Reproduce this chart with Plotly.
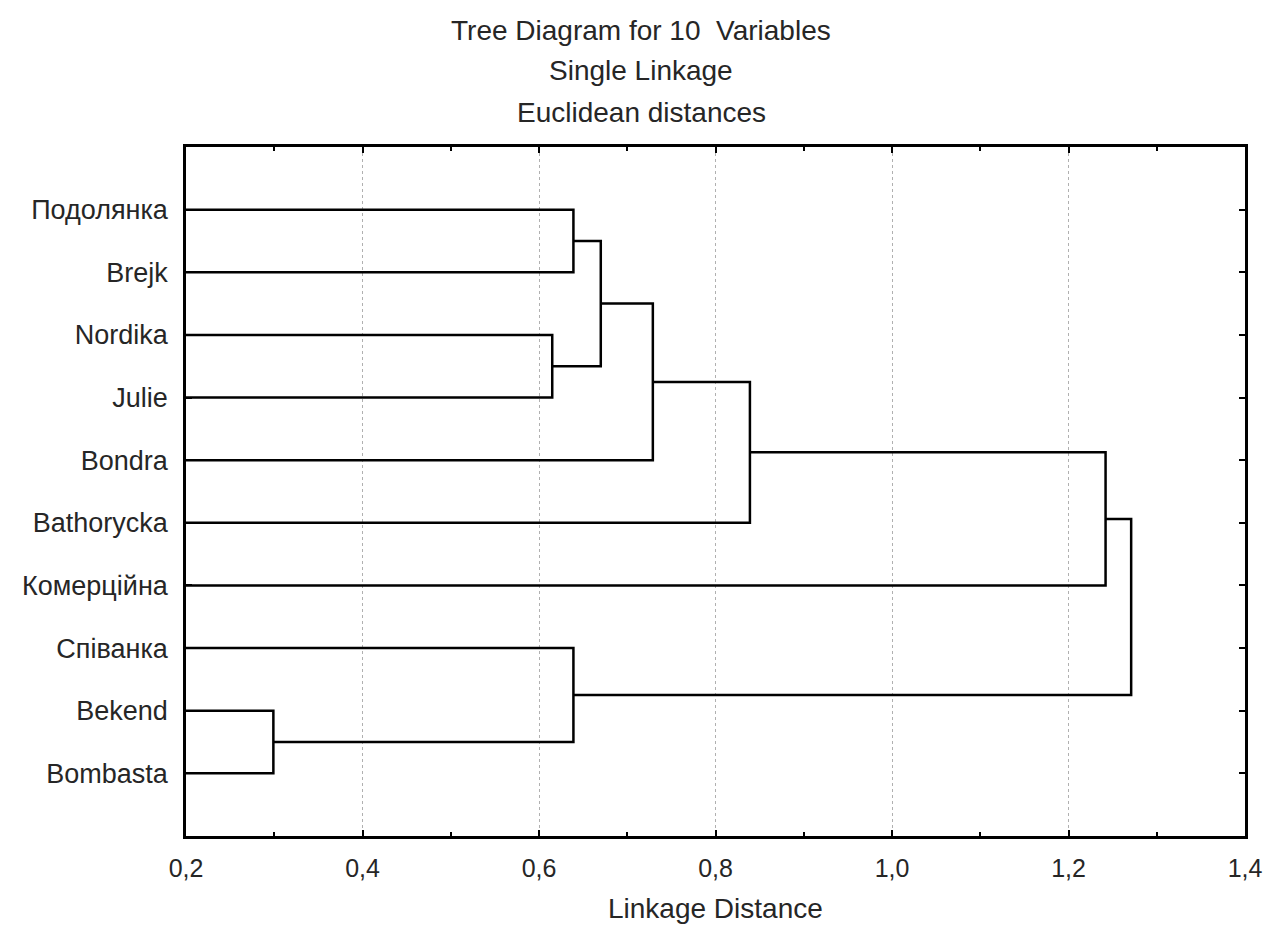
import plotly.graph_objects as go

# ---- data ----
leaves = ["Подолянка", "Brejk", "Nordika", "Julie", "Bondra",
          "Bathorycka", "Комерційна", "Співанка", "Bekend", "Bombasta"]
# merges: (left cluster, right cluster, linkage distance)
merge_left = ["Подолянка", "Nordika", "C1", "C3", "C4", "C5", "Bekend", "Співанка", "C6"]
merge_right = ["Brejk", "Julie", "C2", "Bondra", "Bathorycka", "Комерційна", "Bombasta", "C7", "C8"]
merge_height = [0.639, 0.615, 0.670, 0.729, 0.839, 1.242, 0.299, 0.639, 1.271]
merge_names = ["C1", "C2", "C3", "C4", "C5", "C6", "C7", "C8", "C9"]

x_ticks = [0.2, 0.4, 0.6, 0.8, 1.0, 1.2, 1.4]
title_lines = ["Tree Diagram for 10  Variables", "Single Linkage", "Euclidean distances"]
x_title = "Linkage Distance"

FONT = "Liberation Sans, Arial, sans-serif"
TXT = "#262626"

# positions
pos = {name: i + 1 for i, name in enumerate(leaves)}
hgt = {name: 0.0 for name in leaves}

fig = go.Figure()
for a, b, h, n in zip(merge_left, merge_right, merge_height, merge_names):
    ya, yb = pos[a], pos[b]
    fig.add_trace(go.Scatter(
        x=[hgt[a], h, h, hgt[b]],
        y=[ya, ya, yb, yb],
        mode="lines",
        line=dict(color="black", width=2.5),
        showlegend=False,
        hoverinfo="skip",
    ))
    pos[n] = (ya + yb) / 2
    hgt[n] = h

# page body has an 8px margin; size the figure so the page does not overflow
OFF = 8
W, H = 1273 - 2 * OFF, 932 - 2 * OFF
PL, PR, PT, PB = 186, 1245, 147, 836  # target plot-area edges in page pixels
L, R, T, B = PL - OFF, OFF + W - PR, PT - OFF, OFF + H - PB
fig.update_layout(
    width=W, height=H,
    margin=dict(l=L, r=R, t=T, b=B),
    paper_bgcolor="white", plot_bgcolor="white",
    separators=", ",
    font=dict(family=FONT, size=26, color=TXT),
    xaxis=dict(
        range=[0.2, 1.4],
        tickvals=x_ticks,
        tickformat=".1f",
        ticks="inside", ticklen=6, tickwidth=2, tickcolor="black",
        minor=dict(dtick=0.1, tick0=0.2, ticks="inside", ticklen=4, tickwidth=2,
                   tickcolor="black", showgrid=False),
        showline=True, linecolor="black", linewidth=2.5, mirror="allticks",
        showgrid=True, gridcolor="#b0b0b0", gridwidth=1, griddash="dot",
        zeroline=False, automargin=False,
        ticklabelstandoff=8, ticklabeloverflow="allow",
        tickfont=dict(size=25, color=TXT),
    ),
    yaxis=dict(
        range=[11, 0],
        tickvals=[i + 1 for i in range(len(leaves))],
        ticktext=leaves,
        ticks="inside", ticklen=6, tickwidth=2, tickcolor="black",
        showline=True, linecolor="black", linewidth=2.5, mirror="allticks",
        showgrid=False, zeroline=False, automargin=False,
        ticklabelstandoff=10, ticklabeloverflow="allow",
        tickfont=dict(size=27, color=TXT),
    ),
)

plot_h = PB - PT
for txt, ypx in zip(title_lines, [30, 71, 112]):
    fig.add_annotation(
        text=txt, xref="paper", yref="paper",
        x=(641 - PL) / (PR - PL), y=(PB - ypx) / plot_h,
        showarrow=False, xanchor="center", yanchor="middle",
        font=dict(size=28, color=TXT, family=FONT),
    )
fig.add_annotation(
    text=x_title, xref="paper", yref="paper",
    x=0.5, y=(PB - 908) / plot_h,
    showarrow=False, xanchor="center", yanchor="middle",
    font=dict(size=28, color=TXT, family=FONT),
)

fig.write_html("out.html")
